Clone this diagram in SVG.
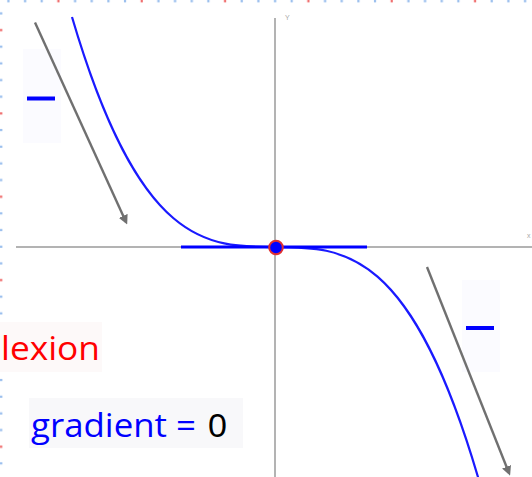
<svg xmlns="http://www.w3.org/2000/svg" width="532" height="477" viewBox="0 0 532 477">
<style>
.axis{stroke:#9a9a9a;stroke-width:1.5;fill:none}
.curve{stroke:#1a1aff;stroke-width:2.2;fill:none}
.arrow{stroke:#707070;stroke-width:2.4;fill:none;marker-end:url(#ah)}
.box{fill:#fbfbff}
.minus{stroke:#0000ff;stroke-width:4}
.lbl{font-family:"Comic Sans MS","Open Sans",sans-serif}
</style>
<defs>
<marker id="ah" viewBox="0 0 10 10" refX="7" refY="5" markerWidth="4" markerHeight="4" orient="auto" markerUnits="strokeWidth">
<path d="M0,0 L10,5 L0,10 z" fill="#707070"/>
</marker>
<pattern id="dotsH" x="0" y="0" width="83.33" height="3" patternUnits="userSpaceOnUse">
<rect x="7.3" y="0" width="2.2" height="2.4" fill="#9cc0ee"/>
<rect x="24" y="0" width="2.2" height="2.4" fill="#9cc0ee"/>
<rect x="40.6" y="0" width="2.2" height="2.4" fill="#9cc0ee"/>
<rect x="57.3" y="0" width="2.2" height="2.4" fill="#f07070"/>
<rect x="74" y="0" width="2.2" height="2.4" fill="#9cc0ee"/>
</pattern>
<pattern id="dotsV" x="0" y="0" width="3" height="83.33" patternUnits="userSpaceOnUse">
<rect x="0" y="12.3" width="2.4" height="2.2" fill="#9cc0ee"/>
<rect x="0" y="29" width="2.4" height="2.2" fill="#f07070"/>
<rect x="0" y="45.6" width="2.4" height="2.2" fill="#9cc0ee"/>
<rect x="0" y="62.3" width="2.4" height="2.2" fill="#9cc0ee"/>
<rect x="0" y="79" width="2.4" height="2.2" fill="#9cc0ee"/>
</pattern>
</defs>
<rect width="532" height="477" fill="#ffffff"/>
<g id="border">
<rect x="0" y="0" width="532" height="3" fill="url(#dotsH)"/>
<rect x="0" y="0" width="3" height="477" fill="url(#dotsV)"/>
</g>
<g id="axes">
<line class="axis" x1="275" y1="18" x2="275" y2="477"/>
<line class="axis" x1="16" y1="247" x2="532" y2="247"/>
<text x="285" y="20" font-family="Liberation Sans, sans-serif" font-size="7" fill="#aaaaaa">Y</text>
<text x="527" y="238" font-family="Liberation Sans, sans-serif" font-size="7" fill="#aaaaaa">x</text>
</g>
<g id="minus-left">
<rect class="box" x="23" y="49" width="38" height="94"/>
<line class="minus" x1="27" y1="98.5" x2="55" y2="98.5"/>
</g>
<g id="minus-right">
<rect class="box" x="462" y="280" width="38" height="92"/>
<line class="minus" x1="466" y1="328" x2="494" y2="328"/>
</g>
<g id="connectors">
<line class="arrow" x1="35" y1="22.5" x2="126" y2="222"/>
<line class="arrow" x1="427" y1="267" x2="509" y2="473"/>
</g>
<g id="curve">
<path class="curve" d="M72,17 C208,479.3 344,12.5 480,483.9"/>
</g>
<g id="tangent">
<line x1="181" y1="247" x2="367" y2="247" stroke="#0000ff" stroke-width="3.2"/>
<circle cx="276" cy="247.5" r="6.8" fill="#0000ff" stroke="#e03030" stroke-width="2"/>
</g>
<g id="label-inflexion">
<rect x="0" y="322" width="102" height="50" fill="#fdf9f9"/>
<text class="lbl" x="1" y="360" font-size="33" fill="#ff0000" textLength="99" lengthAdjust="spacingAndGlyphs">lexion</text>
</g>
<g id="label-gradient">
<rect x="29" y="398" width="214" height="50" fill="#f8f8fa"/>
<text class="lbl" x="31" y="437" font-size="33" fill="#0000ff" textLength="165" lengthAdjust="spacingAndGlyphs">gradient =</text>
<text x="208" y="437" font-family="Liberation Sans, sans-serif" font-size="34" fill="#000000">0</text>
</g>
</svg>
